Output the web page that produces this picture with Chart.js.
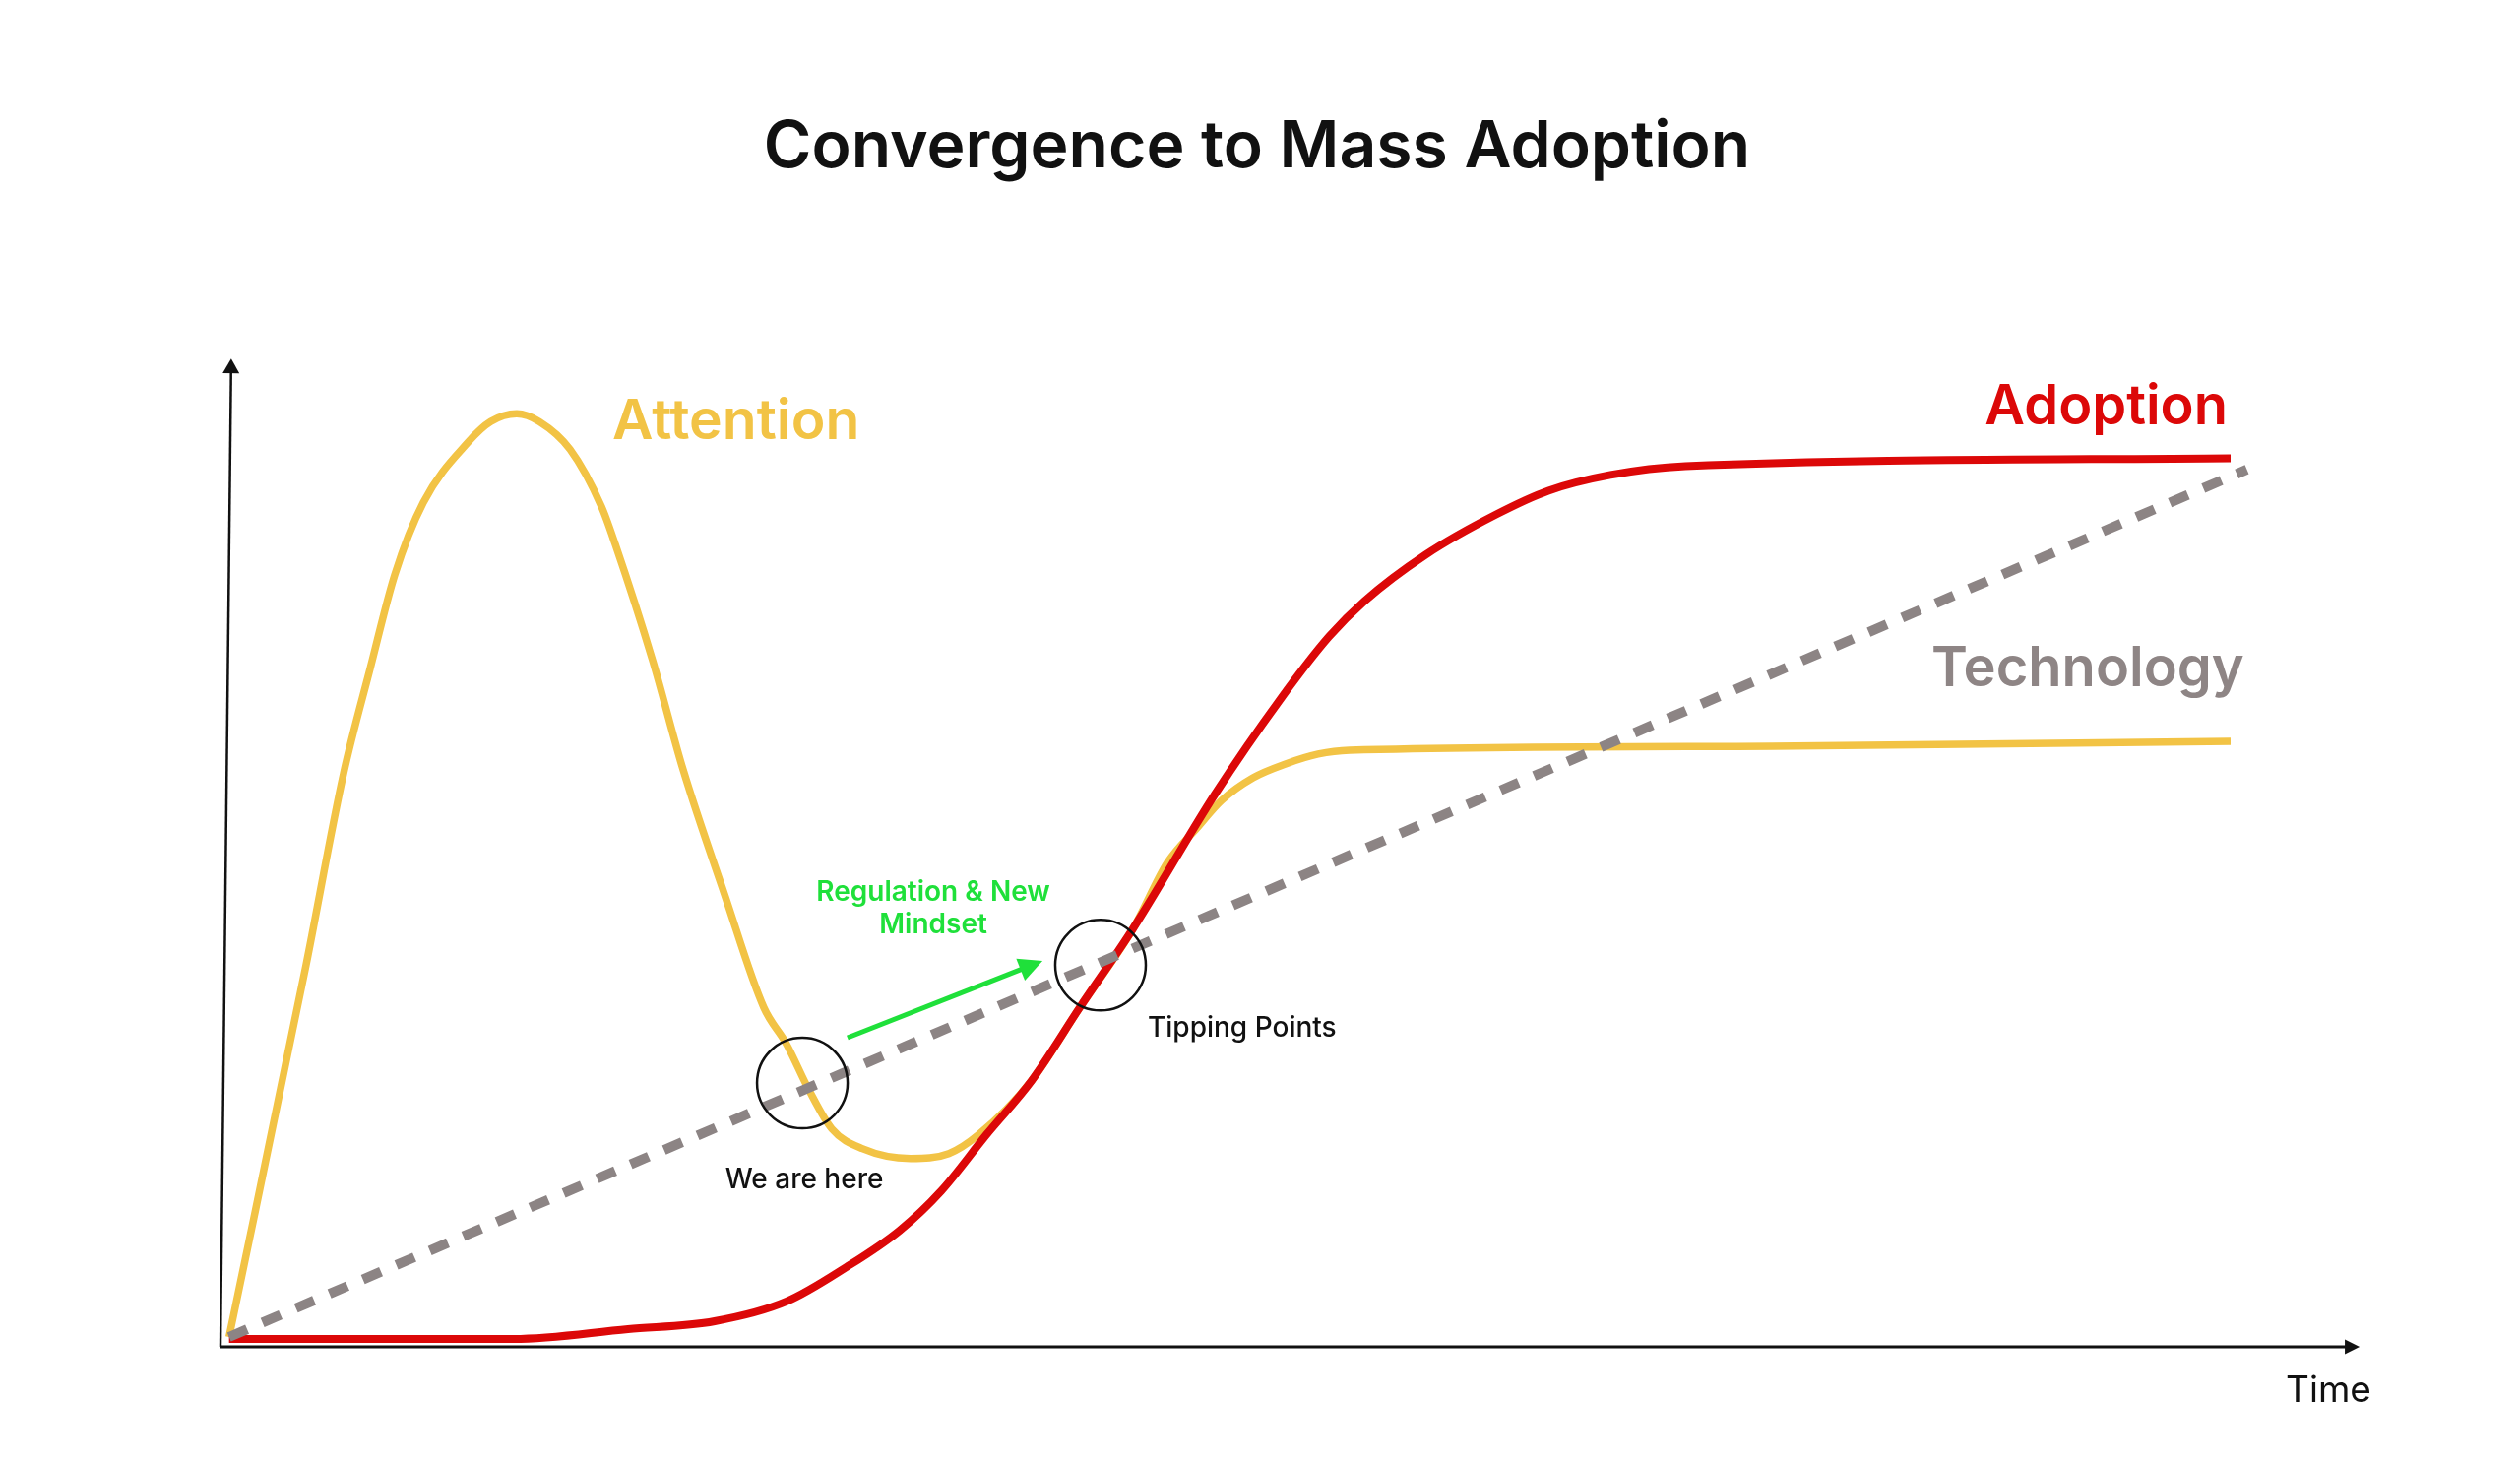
<!DOCTYPE html>
<html>
<head>
<meta charset="utf-8">
<title>Convergence to Mass Adoption</title>
<script src="https://cdn.jsdelivr.net/npm/chart.js@4.4.1/dist/chart.umd.min.js"></script>
<style>
  html, body { margin: 0; padding: 0; background: #fff; }
  canvas { display: block; }
</style>
</head>
<body>
<canvas id="chart" width="2560" height="1486"></canvas>
<script>
// time runs 0..100 along the x axis, level 0..100 up the y axis
const attentionX = [0.4, 4.0, 5.75, 7.0, 8.15, 9.48, 11.57, 12.63, 13.85, 14.91, 16.34, 17.81, 18.45, 20.2, 21.63, 23.56, 25.4, 26.46, 27.52, 28.58, 30.0, 32.26, 34.05, 35.43, 37.92, 40.17, 42.66, 44.27, 45.65, 46.8, 48.27, 49.79, 51.31, 52.78, 72.53, 93.97];
const attentionY = [1.0, 38.7, 58.1, 68.8, 78.3, 85.6, 91.7, 93.8, 94.6, 93.8, 91.0, 85.2, 81.4, 69.6, 58.5, 45.9, 34.4, 30.7, 26.0, 22.1, 20.1, 19.1, 19.6, 21.5, 27.0, 34.4, 42.4, 49.1, 52.6, 55.4, 57.7, 59.1, 60.1, 60.5, 60.9, 61.4];

const adoptionX = [0.4, 13.71, 19.05, 23.1, 26.46, 29.27, 31.75, 33.69, 35.8, 37.92, 40.17, 42.66, 46.48, 49.56, 51.82, 53.47, 56.33, 59.64, 62.08, 64.98, 68.48, 93.97];
const adoptionY = [0.8, 0.8, 1.8, 2.6, 4.6, 8.1, 11.8, 15.8, 21.5, 27.0, 34.4, 42.4, 56.0, 65.7, 72.0, 75.6, 80.3, 84.4, 86.8, 88.4, 89.3, 90.1];

const technologyX = [0.4, 94.73];
const technologyY = [1.0, 88.95];

const toPoints = (xs, ys) => xs.map((x, i) => ({ x: x, y: ys[i] }));

// axes, circles, arrow and the hand placed labels
const sketchPlugin = {
	id: 'sketch',
	beforeDatasetsDraw(chart) {
		const ctx = chart.ctx;
		const xs = chart.scales.x;
		const ys = chart.scales.y;
		const ox = xs.getPixelForValue(0);
		const oy = ys.getPixelForValue(0);
		ctx.save();
		ctx.strokeStyle = '#111';
		ctx.fillStyle = '#111';
		ctx.lineWidth = 3;
		// x axis
		const xt = xs.getPixelForValue(100);
		ctx.beginPath();
		ctx.moveTo(ox, oy);
		ctx.lineTo(xt - 12, oy);
		ctx.stroke();
		arrowHead(ctx, ox, oy, xt, oy, 15, 15);
		// y axis, a little slanted like the hand drawn original
		const yx = xs.getPixelForValue(0.5);
		const yt = ys.getPixelForValue(100.2);
		ctx.lineWidth = 2.5;
		ctx.beginPath();
		ctx.moveTo(ox, oy);
		ctx.lineTo(yx - 0.1, yt + 12);
		ctx.stroke();
		arrowHead(ctx, ox, oy, yx, yt, 15, 17);
		ctx.restore();
	},
	afterDatasetsDraw(chart) {
		const ctx = chart.ctx;
		const xs = chart.scales.x;
		const ys = chart.scales.y;
		const px = v => xs.getPixelForValue(v);
		const py = v => ys.getPixelForValue(v);
		ctx.save();

		// circles
		ctx.strokeStyle = '#111';
		ctx.lineWidth = 2.5;
		[[27.2, 26.75], [41.14, 38.7]].forEach(c => {
			ctx.beginPath();
			ctx.arc(px(c[0]), py(c[1]), 46, 0, Math.PI * 2);
			ctx.stroke();
		});

		// green arrow
		const ax1 = px(29.31), ay1 = py(31.34), ax2 = px(38.43), ay2 = py(39.12);
		ctx.strokeStyle = '#1fe03a';
		ctx.fillStyle = '#1fe03a';
		ctx.lineWidth = 5;
		const ang = Math.atan2(ay2 - ay1, ax2 - ax1);
		ctx.beginPath();
		ctx.moveTo(ax1, ay1);
		ctx.lineTo(ax2 - 20 * Math.cos(ang), ay2 - 20 * Math.sin(ang));
		ctx.stroke();
		arrowHead(ctx, ax1, ay1, ax2, ay2, 24, 24);

		// labels
		const labels = [
			{ t: 'Attention', x: 18.32, y: 92.0, c: '#f2c345', f: '600 57px Inter', a: 'left' },
			{ t: 'Adoption', x: 93.83, y: 93.5, c: '#dc0808', f: '600 56px Inter', a: 'right' },
			{ t: 'Technology', x: 79.98, y: 66.97, c: '#8e8585', f: '600 56px Inter', a: 'left' },
			{ t: 'Regulation & New', x: 33.32, y: 45.2, c: '#1fe03a', f: '600 28px Inter', a: 'center' },
			{ t: 'Mindset', x: 33.32, y: 41.9, c: '#1fe03a', f: '600 28px Inter', a: 'center' },
			{ t: 'We are here', x: 27.29, y: 16.07, c: '#111', f: '500 28px Inter', a: 'center' },
			{ t: 'Tipping Points', x: 43.35, y: 31.44, c: '#111', f: '500 28px Inter', a: 'left' },
			{ t: 'Time', x: 96.55, y: -5.59, c: '#111', f: '400 37px Inter', a: 'left' }
		];
		ctx.textBaseline = 'alphabetic';
		labels.forEach(l => {
			ctx.font = l.f;
			ctx.fillStyle = l.c;
			ctx.textAlign = l.a;
			ctx.fillText(l.t, px(l.x), py(l.y));
		});
		ctx.restore();
	}
};

function arrowHead(ctx, x1, y1, x2, y2, len, width) {
	const a = Math.atan2(y2 - y1, x2 - x1);
	const bx = x2 - len * Math.cos(a);
	const by = y2 - len * Math.sin(a);
	ctx.beginPath();
	ctx.moveTo(x2, y2);
	ctx.lineTo(bx + (width / 2) * Math.sin(a), by - (width / 2) * Math.cos(a));
	ctx.lineTo(bx - (width / 2) * Math.sin(a), by + (width / 2) * Math.cos(a));
	ctx.closePath();
	ctx.fill();
}

const ctx = document.getElementById('chart');

const data = {
	datasets: [
		{
			label: 'Technology',
			data: toPoints(technologyX, technologyY),
			borderColor: '#8c8484',
			borderWidth: 10,
			borderDash: [20, 17],
			borderCapStyle: 'butt',
			tension: 0,
			order: 0,
		},
		{
			label: 'Adoption',
			data: toPoints(adoptionX, adoptionY),
			borderColor: '#dc0808',
			borderWidth: 8,
			cubicInterpolationMode: 'monotone',
			order: 1,
		},
		{
			label: 'Attention',
			data: toPoints(attentionX, attentionY),
			borderColor: '#f2c345',
			borderWidth: 7.5,
			cubicInterpolationMode: 'monotone',
			order: 2,
		},
	],
};

const config = {
	type: 'line',
	data: data,
	options: {
		responsive: false,
		devicePixelRatio: 1,
		animation: false,
		clip: false,
		elements: {
			point: { radius: 0, hoverRadius: 0 },
			line: { borderJoinStyle: 'round' },
		},
		// padding kept nearly symmetric so the title sits on the page centre;
		// the x range is widened to put time 0 on the drawn origin
		layout: {
			padding: { left: 160, right: 166, top: 0, bottom: 118 },
		},
		scales: {
			x: { type: 'linear', min: -2.945, max: 99.86, display: false },
			y: { type: 'linear', min: 0, max: 100, display: false },
		},
		plugins: {
			legend: { display: false },
			tooltip: { enabled: false },
			title: {
				display: true,
				text: 'Convergence to Mass Adoption',
				color: '#111',
				font: { family: 'Inter', size: 66, weight: '600', lineHeight: 1.2 },
				padding: { top: 111, bottom: 176 },
			},
		},
	},
	plugins: [sketchPlugin],
};

new Chart(ctx, config);
</script>
</body>
</html>
